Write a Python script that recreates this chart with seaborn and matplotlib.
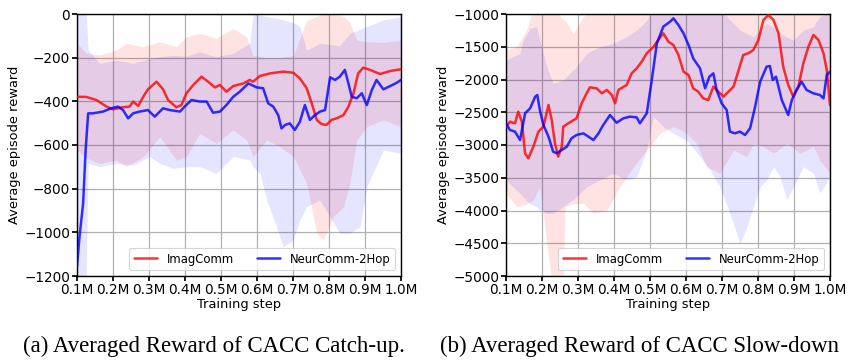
import numpy as np
import pandas as pd
import matplotlib
matplotlib.use("Agg")
import matplotlib.pyplot as plt
import seaborn as sns

# ---------------- data (training step in millions) ----------------
# Left panel: CACC Catch-up
catch_imag_x = [0.100, 0.126, 0.154, 0.182, 0.200, 0.228, 0.246, 0.256, 0.270, 0.284,
                0.297, 0.321, 0.339, 0.353, 0.376, 0.390, 0.404, 0.423, 0.446, 0.464,
                0.483, 0.497, 0.515, 0.534, 0.562, 0.580, 0.589, 0.608, 0.636, 0.673,
                0.701, 0.719, 0.738, 0.752, 0.766, 0.779, 0.793, 0.807, 0.821, 0.840,
                0.854, 0.868, 0.881, 0.895, 0.914, 0.942, 0.970, 1.000]
catch_imag_y = [-379, -380, -394, -424, -437, -427, -424, -401, -421, -379,
                -345, -310, -345, -394, -427, -417, -363, -325, -287, -310,
                -336, -325, -356, -330, -318, -302, -310, -284, -272, -264,
                -269, -295, -340, -409, -485, -504, -508, -485, -478, -463,
                -424, -363, -272, -246, -256, -275, -261, -253]

catch_neur_x = [0.100, 0.107, 0.117, 0.124, 0.131, 0.144, 0.172, 0.195, 0.214, 0.228,
                0.242, 0.256, 0.274, 0.297, 0.316, 0.339, 0.358, 0.386, 0.399, 0.418,
                0.441, 0.460, 0.478, 0.497, 0.515, 0.534, 0.552, 0.576, 0.599, 0.617,
                0.631, 0.645, 0.659, 0.668, 0.678, 0.691, 0.705, 0.719, 0.733, 0.747,
                0.761, 0.775, 0.789, 0.803, 0.817, 0.830, 0.844, 0.854, 0.863, 0.877,
                0.891, 0.905, 0.919, 0.932, 0.951, 0.970, 0.988, 1.000]
catch_neur_y = [-1157, -1020, -867, -623, -455, -455, -447, -432, -424, -440,
                -478, -455, -447, -440, -470, -432, -440, -447, -424, -394,
                -401, -401, -452, -447, -417, -379, -356, -318, -336, -340,
                -409, -424, -463, -524, -508, -501, -531, -494, -417, -485,
                -463, -447, -440, -290, -302, -287, -256, -318, -379, -386,
                -363, -417, -348, -302, -345, -330, -315, -302]

catch_imag_band_x = [0.100, 0.126, 0.163, 0.209, 0.237, 0.284, 0.330, 0.376, 0.404, 0.441,
                     0.487, 0.534, 0.571, 0.589, 0.627, 0.664, 0.701, 0.738, 0.766, 0.784,
                     0.812, 0.840, 0.858, 0.877, 0.905, 0.951, 1.000]
catch_imag_upper = [-134, -180, -188, -165, -134, -150, -127, -150, -104, -88,
                    -111, -66, -104, -190, -200, -200, -190, -30, -10, 0,
                    0, -10, -40, -120, -127, -130, -120]
catch_imag_lower = [-623, -660, -684, -669, -699, -653, -562, -669, -653, -547,
                    -592, -531, -577, -653, -577, -608, -653, -776, -1005, -1035,
                    -928, -882, -776, -577, -516, -485, -516]

catch_neur_band_x = [0.100, 0.124, 0.131, 0.163, 0.209, 0.256, 0.302, 0.330, 0.367, 0.404,
                     0.441, 0.487, 0.534, 0.580, 0.589, 0.608, 0.627, 0.654, 0.673, 0.701,
                     0.719, 0.738, 0.775, 0.803, 0.830, 0.858, 0.886, 0.905, 0.951, 1.000]
catch_neur_upper = [50, 50, -165, -226, -211, -226, -203, -195, -190, -193,
                    -173, -196, -180, -134, 0, -5, -12, -20, -27, -40,
                    -58, -165, -134, -140, -145, -88, -70, -58, -27, -12]
catch_neur_lower = [-1300, -1300, -684, -699, -684, -692, -653, -684, -707, -699,
                    -699, -730, -653, -669, -700, -730, -852, -974, -1066, -1035,
                    -943, -882, -852, -928, -1005, -1005, -974, -791, -623, -638]

# Right panel: CACC Slow-down
slow_imag_x = [0.100, 0.111, 0.125, 0.134, 0.144, 0.153, 0.162, 0.176, 0.190, 0.204,
               0.218, 0.227, 0.236, 0.245, 0.255, 0.259, 0.273, 0.296, 0.310, 0.324,
               0.333, 0.352, 0.366, 0.380, 0.394, 0.403, 0.412, 0.435, 0.449, 0.463,
               0.477, 0.491, 0.510, 0.523, 0.537, 0.551, 0.565, 0.579, 0.593, 0.607,
               0.620, 0.634, 0.648, 0.662, 0.676, 0.690, 0.704, 0.718, 0.732, 0.745,
               0.759, 0.773, 0.787, 0.801, 0.815, 0.829, 0.843, 0.857, 0.870, 0.884,
               0.898, 0.912, 0.926, 0.940, 0.954, 0.968, 0.982, 0.991, 1.000]
slow_imag_y = [-2720, -2644, -2669, -2491, -2644, -3127, -3204, -3025, -2796, -2720,
               -2389, -2618, -2975, -3178, -3025, -2720, -2669, -2593, -2364, -2211,
               -2120, -2135, -2211, -2160, -2237, -2364, -2160, -2084, -1906, -1830,
               -1728, -1600, -1499, -1397, -1295, -1422, -1473, -1626, -1880, -1931,
               -2135, -2186, -2288, -2313, -2109, -2186, -2262, -2186, -2109, -1880,
               -1626, -1600, -1550, -1397, -1092, -1015, -1092, -1295, -1804, -2084,
               -2262, -2109, -1753, -1499, -1321, -1397, -1600, -1855, -2389]

slow_neur_x = [0.100, 0.111, 0.125, 0.139, 0.153, 0.167, 0.181, 0.187, 0.194, 0.204,
               0.218, 0.231, 0.241, 0.255, 0.269, 0.282, 0.296, 0.315, 0.329, 0.343,
               0.357, 0.370, 0.389, 0.407, 0.426, 0.444, 0.463, 0.472, 0.491, 0.505,
               0.519, 0.537, 0.556, 0.565, 0.579, 0.593, 0.607, 0.620, 0.639, 0.653,
               0.665, 0.676, 0.685, 0.699, 0.713, 0.722, 0.736, 0.750, 0.764, 0.778,
               0.792, 0.806, 0.824, 0.833, 0.841, 0.850, 0.866, 0.884, 0.894, 0.907,
               0.921, 0.935, 0.954, 0.972, 0.982, 0.991, 1.000]
slow_neur_y = [-2669, -2771, -2796, -2924, -2516, -2440, -2262, -2237, -2466, -2695,
               -2873, -3102, -3127, -3076, -3025, -2898, -2847, -2822, -2873, -2924,
               -2822, -2695, -2542, -2659, -2593, -2567, -2578, -2669, -2516, -2008,
               -1448, -1193, -1117, -1066, -1168, -1295, -1473, -1677, -1830, -2135,
               -1957, -1906, -2160, -2364, -2466, -2796, -2822, -2796, -2847, -2745,
               -2415, -2033, -1804, -1794, -2008, -1957, -2313, -2542, -2313, -2160,
               -2033, -2160, -2211, -2237, -2288, -1931, -1880]

slow_imag_band_x = [0.100, 0.130, 0.157, 0.176, 0.194, 0.227, 0.231, 0.259, 0.264, 0.287,
                    0.315, 0.343, 0.380, 0.417, 0.454, 0.491, 0.528, 0.565, 0.583, 0.602,
                    0.630, 0.657, 0.694, 0.732, 0.769, 0.787, 0.815, 0.843, 0.880, 0.917,
                    0.954, 0.972, 1.000]
slow_imag_upper = [-1550, -1499, -1244, -900, -900, -900, -900, -1092, -1092, -1295,
                   -1041, -900, -900, -900, -900, -900, -900, -900, -900, -900,
                   -900, -900, -900, -900, -900, -900, -900, -900, -900, -900,
                   -900, -900, -900]
slow_imag_lower = [-3738, -3941, -3900, -3840, -3636, -5100, -5100, -5100, -3941, -3900,
                   -3891, -4043, -3993, -3636, -3331, -3076, -2822, -2720, -2760, -2822,
                   -2975, -3331, -3433, -3076, -3178, -2975, -3025, -3127, -2975, -3127,
                   -3025, -3229, -3433]

slow_neur_band_x = [0.100, 0.139, 0.148, 0.167, 0.185, 0.194, 0.213, 0.231, 0.259, 0.296,
                    0.324, 0.361, 0.398, 0.435, 0.463, 0.491, 0.509, 0.537, 0.565, 0.602,
                    0.639, 0.667, 0.694, 0.722, 0.750, 0.769, 0.787, 0.806, 0.824, 0.843,
                    0.861, 0.880, 0.898, 0.926, 0.954, 0.972, 1.000]
slow_neur_upper = [-1702, -1600, -1397, -1219, -1193, -1397, -1804, -2058, -2008, -1804,
                   -1600, -1499, -1448, -1346, -1244, -1100, -900, -900, -900, -900,
                   -900, -900, -900, -1092, -1244, -1300, -1346, -1250, -1143, -1200,
                   -1295, -1350, -1397, -1250, -1193, -1041, -950]
slow_neur_lower = [-3534, -3738, -3800, -3900, -3941, -3990, -4043, -4043, -3941, -3789,
                   -3636, -3534, -3433, -3534, -3484, -3076, -2567, -2720, -2822, -2924,
                   -3178, -3382, -3636, -4043, -4501, -4247, -3941, -3636, -3534, -3331,
                   -3484, -3840, -3636, -3331, -3433, -3738, -3484]

step_ticks = [0.1, 0.2, 0.3, 0.4, 0.5, 0.6, 0.7, 0.8, 0.9, 1.0]
step_labels = ["0.1M", "0.2M", "0.3M", "0.4M", "0.5M", "0.6M", "0.7M", "0.8M", "0.9M", "1.0M"]
series_names = ["ImagComm", "NeurComm-2Hop"]
captions = ["(a) Averaged Reward of CACC Catch-up.", "(b) Averaged Reward of CACC Slow-down"]

# ---------------- style ----------------
sns.set_theme(style="whitegrid", rc={
    "axes.edgecolor": "black",
    "axes.linewidth": 1.0,
    "grid.color": "#b0b0b0",
    "grid.linewidth": 0.9,
    "xtick.bottom": True,
    "ytick.left": True,
    "xtick.major.size": 3.5,
    "ytick.major.size": 3.5,
    "xtick.color": "black",
    "ytick.color": "black",
    "axes.labelcolor": "black",
    "text.color": "black",
})
plt.rcParams["font.family"] = ["DejaVu Sans"]

fig = plt.figure(figsize=(8.49, 3.61), dpi=100)
W, H = 849, 361
ax_l = fig.add_axes([77 / W, 1 - 276 / H, 324 / W, 262 / H])
ax_r = fig.add_axes([506 / W, 1 - 276 / H, 324 / W, 262 / H])

RED = "#ff0000"
BLUE = "#0000ff"


def draw(ax, imag, neur, imag_band, neur_band, ylim, yticks):
    bx, bu, bl = imag_band
    ax.fill_between(bx, bl, bu, color=RED, alpha=0.11, linewidth=0, zorder=1)
    bx, bu, bl = neur_band
    ax.fill_between(bx, bl, bu, color=BLUE, alpha=0.10, linewidth=0, zorder=1)
    df_i = pd.DataFrame({"step": imag[0], "reward": imag[1]})
    df_n = pd.DataFrame({"step": neur[0], "reward": neur[1]})
    sns.lineplot(data=df_i, x="step", y="reward", ax=ax, color=RED, alpha=0.8,
                 linewidth=1.8, label=series_names[0], zorder=3)
    sns.lineplot(data=df_n, x="step", y="reward", ax=ax, color=BLUE, alpha=0.8,
                 linewidth=1.8, label=series_names[1], zorder=3)
    ax.set_xlim(0.1, 1.0)
    ax.set_ylim(*ylim)
    ax.set_xticks(step_ticks)
    ax.set_xticklabels(step_labels)
    ax.set_yticks(yticks)
    ax.tick_params(labelsize=9.8, pad=1.5)
    ax.set_xlabel("Training step", fontsize=9.4, labelpad=1)
    ax.set_ylabel("Average episode reward", fontsize=9.4, labelpad=2)
    ax.grid(True, color="#b0b0b0", linewidth=0.9)
    for s in ax.spines.values():
        s.set_color("black")
        s.set_linewidth(1.0)
    leg = ax.legend(loc="lower right", ncol=2, fontsize=8.4, frameon=True,
                    framealpha=0.8, edgecolor="#cccccc", borderaxespad=0.5,
                    columnspacing=2.0, handlelength=2.0)
    leg.get_frame().set_linewidth(0.8)


draw(ax_l, (catch_imag_x, catch_imag_y), (catch_neur_x, catch_neur_y),
     (catch_imag_band_x, catch_imag_upper, catch_imag_lower),
     (catch_neur_band_x, catch_neur_upper, catch_neur_lower),
     (-1200, 0), list(range(-1200, 1, 200)))
draw(ax_r, (slow_imag_x, slow_imag_y), (slow_neur_x, slow_neur_y),
     (slow_imag_band_x, slow_imag_upper, slow_imag_lower),
     (slow_neur_band_x, slow_neur_upper, slow_neur_lower),
     (-5000, -1000), list(range(-5000, -999, 500)))

fig.text(214 / W, 1 - 352 / H, captions[0], ha="center", va="baseline",
         fontsize=16.5, family=["Liberation Serif", "DejaVu Serif"])
fig.text(639 / W, 1 - 352 / H, captions[1], ha="center", va="baseline",
         fontsize=16.5, family=["Liberation Serif", "DejaVu Serif"])

fig.savefig("out.png", dpi=100)
